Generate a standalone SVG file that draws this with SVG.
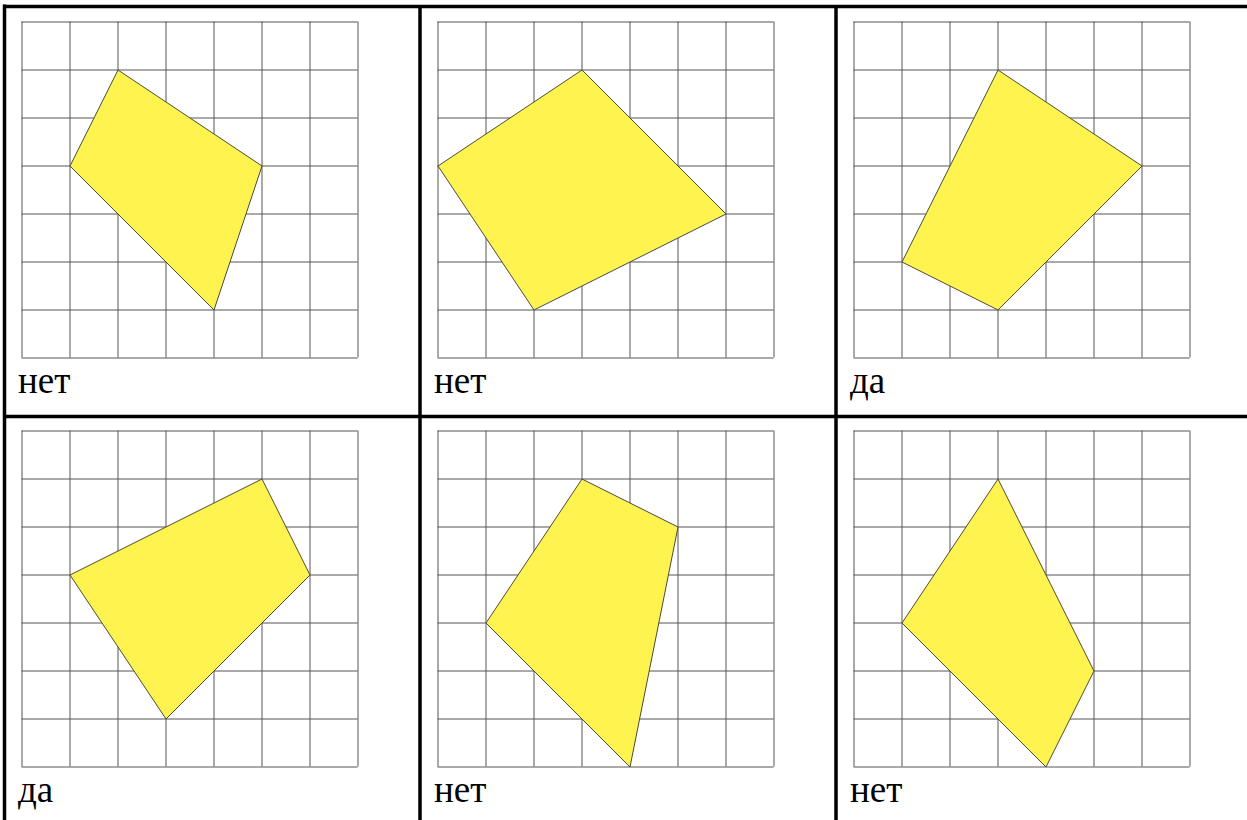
<svg xmlns="http://www.w3.org/2000/svg" xmlns:xlink="http://www.w3.org/1999/xlink" width="1247" height="820" viewBox="0 0 1247 820">
<style>
.grid line{stroke:#555;stroke-width:1}
.shape{fill:#fff44f;stroke:#4a4a3a;stroke-width:1;stroke-linejoin:miter}
.lbl{font-family:"Liberation Serif","Times New Roman","DejaVu Serif",serif;font-size:37px;fill:#000}
.border{stroke:#000;stroke-width:3.5;fill:none}
</style>
<defs>
<g id="grid" class="grid">
<line x1="0" y1="0.5" x2="336" y2="0.5"/>
<line x1="0" y1="48.5" x2="336" y2="48.5"/>
<line x1="0" y1="96.5" x2="336" y2="96.5"/>
<line x1="0" y1="144.5" x2="336" y2="144.5"/>
<line x1="0" y1="192.5" x2="336" y2="192.5"/>
<line x1="0" y1="240.5" x2="336" y2="240.5"/>
<line x1="0" y1="288.5" x2="336" y2="288.5"/>
<line x1="0" y1="336.5" x2="336" y2="336.5"/>
<line x1="0.5" y1="0" x2="0.5" y2="336"/>
<line x1="48.5" y1="0" x2="48.5" y2="336"/>
<line x1="96.5" y1="0" x2="96.5" y2="336"/>
<line x1="144.5" y1="0" x2="144.5" y2="336"/>
<line x1="192.5" y1="0" x2="192.5" y2="336"/>
<line x1="240.5" y1="0" x2="240.5" y2="336"/>
<line x1="288.5" y1="0" x2="288.5" y2="336"/>
<line x1="336.5" y1="0" x2="336.5" y2="336"/>
</g>
</defs>
<rect width="1247" height="820" fill="#fff"/>
<g id="table-borders">
<line class="border" x1="4.5" y1="4.5" x2="4.5" y2="820"/>
<line class="border" x1="3" y1="6.5" x2="1247" y2="6.5"/>
<line class="border" x1="3" y1="416.5" x2="1247" y2="416.5"/>
<line class="border" x1="420" y1="5" x2="420" y2="820"/>
<line class="border" x1="836" y1="5" x2="836" y2="820"/>
</g>
<g id="cell1">
<use xlink:href="#grid" x="21.5" y="21.5"/>
<polygon class="shape" points="118,70 262,166 214,310 70,166"/>
<text class="lbl" x="18" y="393">нет</text>
</g>
<g id="cell2">
<use xlink:href="#grid" x="437.5" y="21.5"/>
<polygon class="shape" points="582,70 726,214 534,310 438,166"/>
<text class="lbl" x="434" y="393">нет</text>
</g>
<g id="cell3">
<use xlink:href="#grid" x="853.5" y="21.5"/>
<polygon class="shape" points="998,70 1142,166 998,310 902,262"/>
<text class="lbl" x="850" y="393">да</text>
</g>
<g id="cell4">
<use xlink:href="#grid" x="21.5" y="430.5"/>
<polygon class="shape" points="262,479 310,575 166,719 70,575"/>
<text class="lbl" x="18" y="802">да</text>
</g>
<g id="cell5">
<use xlink:href="#grid" x="437.5" y="430.5"/>
<polygon class="shape" points="582,479 678,527 630,767 486,623"/>
<text class="lbl" x="434" y="802">нет</text>
</g>
<g id="cell6">
<use xlink:href="#grid" x="853.5" y="430.5"/>
<polygon class="shape" points="998,479 1094,671 1046,767 902,623"/>
<text class="lbl" x="850" y="802">нет</text>
</g>
</svg>
